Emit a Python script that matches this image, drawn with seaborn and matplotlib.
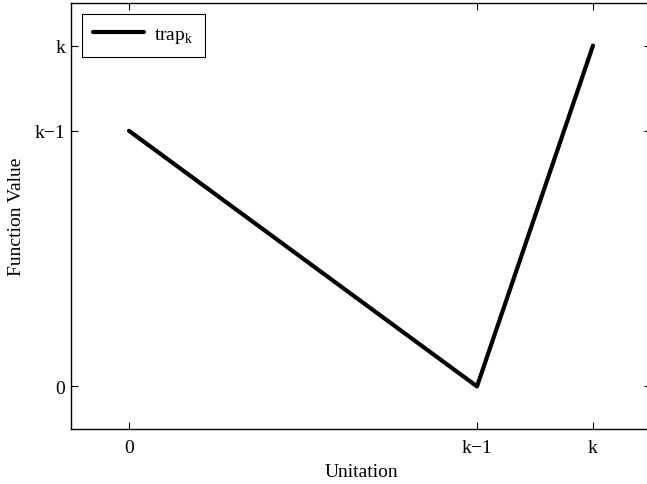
import matplotlib
matplotlib.use("Agg")
import matplotlib.pyplot as plt
import seaborn as sns
import pandas as pd

# data (k = 4)
unitation = [0, 1, 2, 3, 4]
trap_values = [3, 2, 1, 0, 4]
x_tick_pos = [0, 3, 4]
x_tick_labels = ["0", "k\u22121", "k"]
y_tick_pos = [0, 3, 4]
y_tick_labels = ["0", "k\u22121", "k"]

sns.set_style("ticks")
plt.rcParams["font.family"] = ["Liberation Serif", "DejaVu Serif"]
plt.rcParams["mathtext.fontset"] = "custom"
plt.rcParams["mathtext.rm"] = "Liberation Serif"
plt.rcParams["text.color"] = "black"
plt.rcParams["axes.labelcolor"] = "black"

df = pd.DataFrame({"Unitation": unitation, "Function Value": trap_values})

fig = plt.figure(figsize=(6.47, 4.85), dpi=100)
ax = fig.add_axes([71/647, 1-430/485, (651-71)/647, (430-4)/485])
sns.lineplot(data=df, x="Unitation", y="Function Value", ax=ax, color="black",
             linewidth=3, label="trap$_\\mathregular{k}$")

ax.set_xlim(-0.5, 4.5)
ax.set_ylim(-0.5, 4.5)
ax.set_xticks(x_tick_pos)
ax.set_xticklabels(x_tick_labels)
ax.set_yticks(y_tick_pos)
ax.set_yticklabels(y_tick_labels)
ax.tick_params(axis="both", direction="in", top=True, right=True, length=5,
               width=0.8, labelsize=14, colors="black")
ax.tick_params(axis="x", pad=7)
ax.tick_params(axis="y", pad=4)
for s in ax.spines.values():
    s.set_visible(True)
    s.set_linewidth(1.0)
    s.set_color("black")
ax.set_xlabel("Unitation", fontsize=14, labelpad=5)
ax.set_ylabel("Function Value", fontsize=14, labelpad=7)

leg = ax.legend(loc="upper left", fontsize=14, frameon=True, fancybox=False,
                edgecolor="black", framealpha=1, handlelength=2.6,
                handletextpad=0.5, borderpad=0.6, borderaxespad=0.55)
leg.get_frame().set_linewidth(0.8)

fig.savefig("out.png", dpi=100)
